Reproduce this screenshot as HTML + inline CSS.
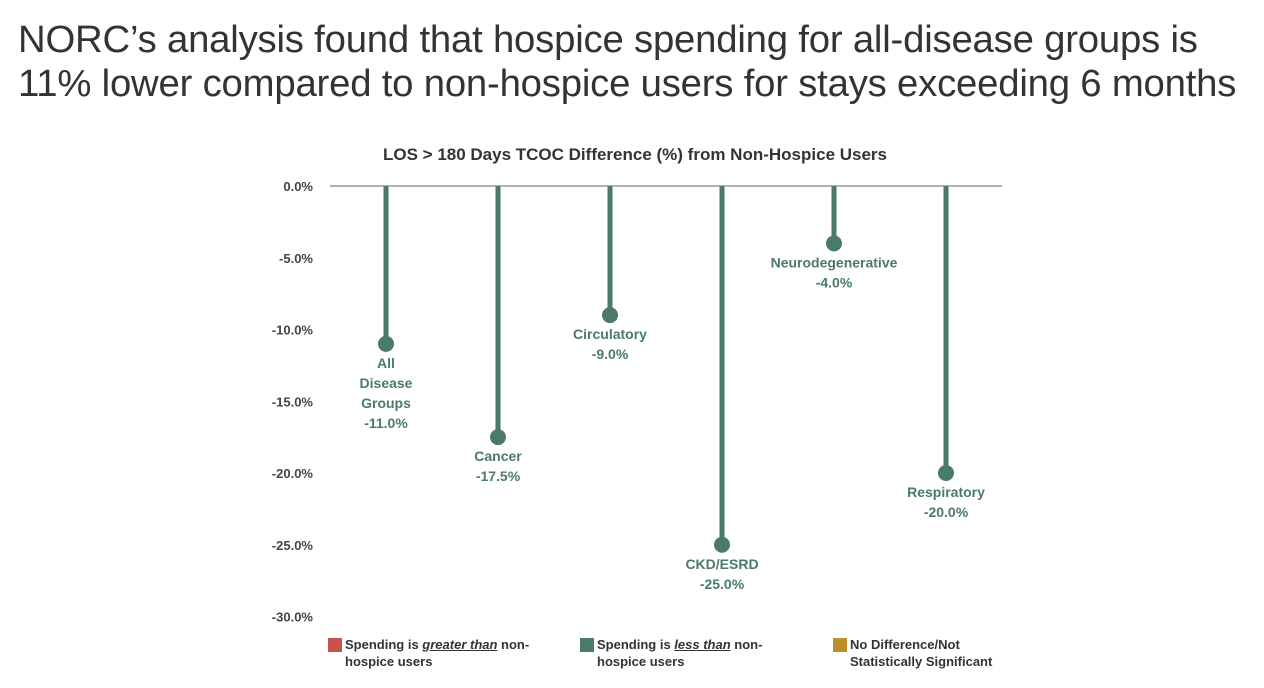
<!DOCTYPE html>
<html><head><meta charset="utf-8"><style>
body{margin:0;width:1264px;height:688px;background:#fff;overflow:hidden;font-family:"Liberation Sans",sans-serif}
h1{position:absolute;left:18px;top:18px;margin:0;font-weight:300;font-size:38.3px;line-height:44px;color:#333;letter-spacing:-0.2px;white-space:nowrap}
</style></head><body>
<h1>NORC’s analysis found that hospice spending for all-disease groups is<br>11% lower compared to non-hospice users for stays exceeding 6 months</h1>
<svg id="chart" width="1264" height="688" style="position:absolute;left:0;top:0">
<text x="635" y="160" text-anchor="middle" font-size="17" font-weight="bold" fill="#333">LOS &gt; 180 Days TCOC Difference (%) from Non-Hospice Users</text>
</svg>
<script>
const categories=[["All","Disease","Groups"],["Cancer"],["Circulatory"],["CKD/ESRD"],["Neurodegenerative"],["Respiratory"]];
const values=[-11.0,-17.5,-9.0,-25.0,-4.0,-20.0];
const ticks=[0,-5,-10,-15,-20,-25,-30];
const svg=document.getElementById('chart');
const NS='http://www.w3.org/2000/svg';
const y0=186,pp=14.35;
const y=v=>y0-v*pp;
const xs=i=>386+i*112;
const G='#4a7a6a';
function mk(t,a){const e=document.createElementNS(NS,t);for(const k in a)e.setAttribute(k,a[k]);svg.appendChild(e);return e;}
ticks.forEach(t=>{const e=mk('text',{x:313,y:y(t)+5,'text-anchor':'end','font-size':13,'font-weight':'bold',fill:'#444'});e.textContent=t.toFixed(1)+'%';

});
const zl=mk('line',{x1:330,x2:1002,y1:y0,y2:y0,stroke:'#999','stroke-width':1.5});


values.forEach((v,i)=>{const x=xs(i);
const l=mk('line',{x1:x,x2:x,y1:y0,y2:y(v),stroke:G,'stroke-width':5});


const c=mk('circle',{cx:x,cy:y(v),r:8,fill:G});


const lines=categories[i].concat([v.toFixed(1)+'%']);
lines.forEach((s,j)=>{const t=mk('text',{x:x,y:y(v)+24+j*20,'text-anchor':'middle','font-size':14,'font-weight':'bold',fill:G});t.textContent=s;

});});
</script>
<div style="position:absolute;top:636px;left:0;font-size:13px;font-weight:bold;color:#333;line-height:17px">
<div style="position:absolute;left:328px;width:220px"><span style="position:absolute;left:0;top:2px;width:14px;height:14px;background:#c9524f"></span><div style="margin-left:17px">Spending is <i><u>greater than</u></i> non-<br>hospice users</div></div>
<div style="position:absolute;left:580px;width:220px"><span style="position:absolute;left:0;top:2px;width:14px;height:14px;background:#4a7a6a"></span><div style="margin-left:17px">Spending is <i><u>less than</u></i> non-<br>hospice users</div></div>
<div style="position:absolute;left:833px;width:220px"><span style="position:absolute;left:0;top:2px;width:14px;height:14px;background:#c08f2c"></span><div style="margin-left:17px">No Difference/Not<br>Statistically Significant</div></div>
</div>
</body></html>
